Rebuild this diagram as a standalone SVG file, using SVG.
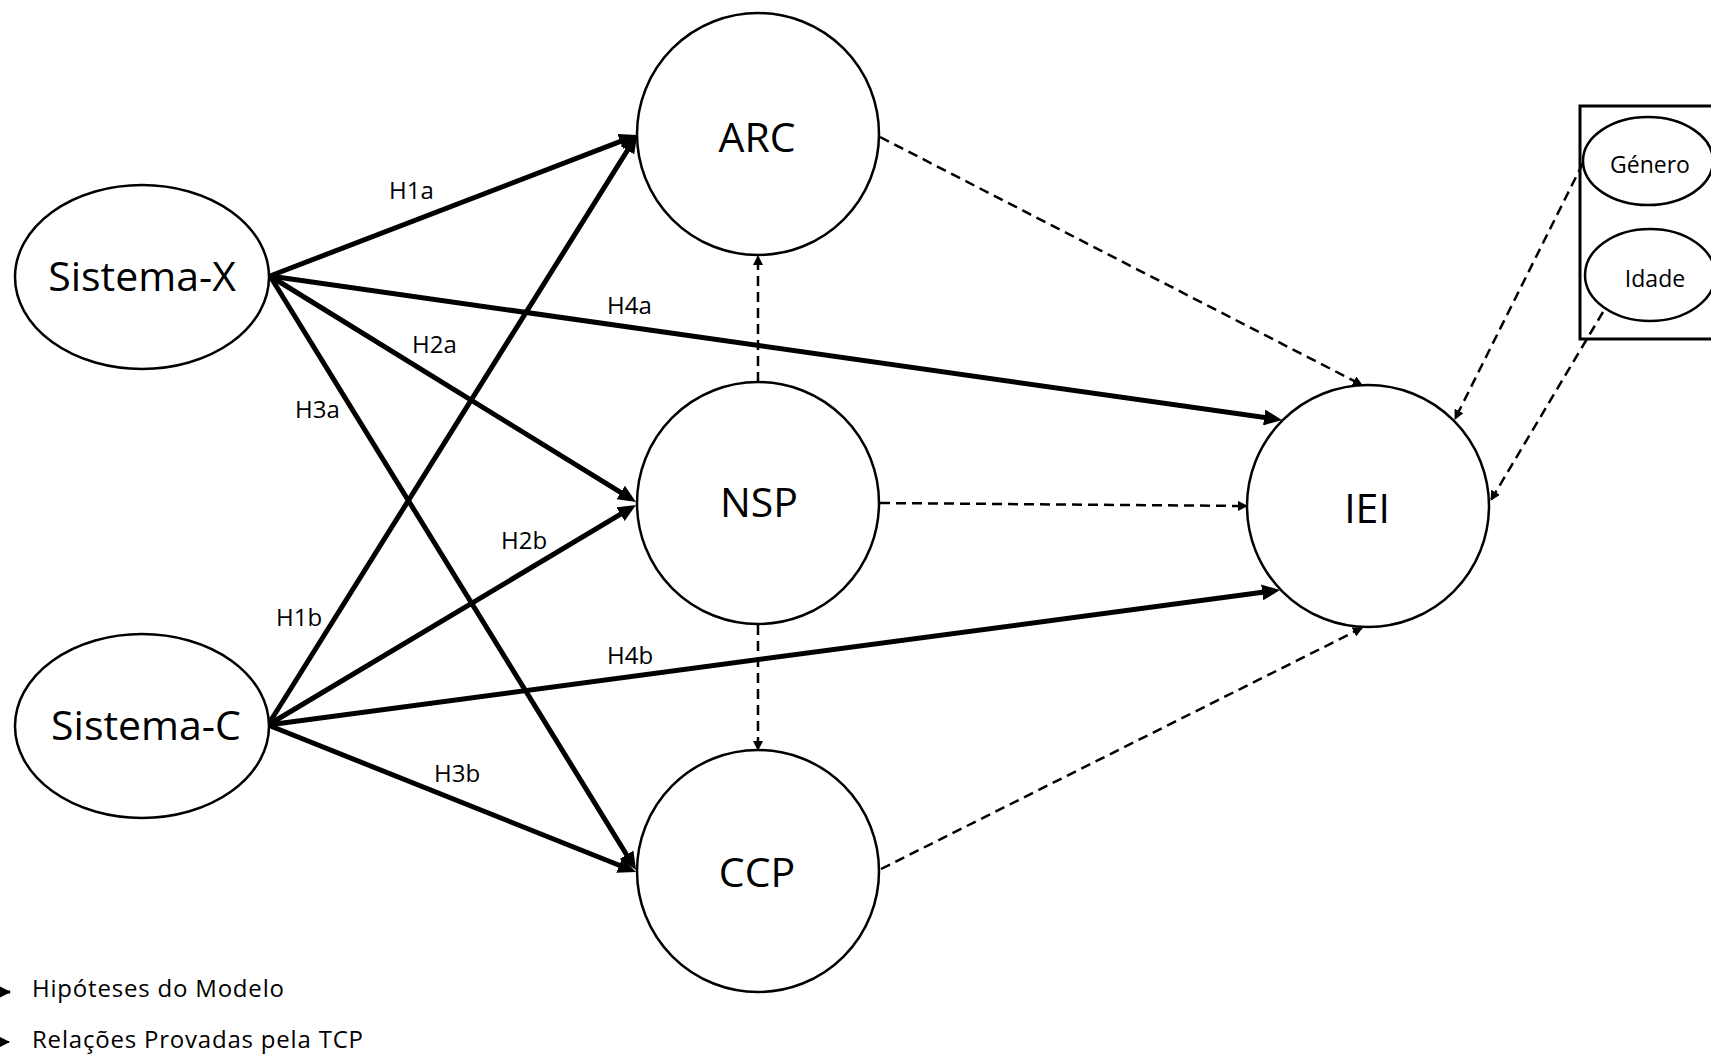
<svg xmlns="http://www.w3.org/2000/svg" width="1711" height="1058" viewBox="0 0 1711 1058">
  <style>
    .node { fill: #ffffff; stroke: #000000; stroke-width: 2.5; }
    .big { font-family: "Open Sans", "Liberation Sans", sans-serif; font-size: 41px; fill: #000; text-anchor: middle; }
    .small { font-family: "Open Sans", "Liberation Sans", sans-serif; font-size: 23px; fill: #000; text-anchor: middle; }
    .lab { font-family: "Open Sans", "Liberation Sans", sans-serif; font-size: 24px; fill: #000; }
    .leg { font-family: "Open Sans", "Liberation Sans", sans-serif; font-size: 24px; letter-spacing: 0.8px; fill: #000; }
    .hyp { stroke: #000; stroke-width: 5; fill: none; marker-end: url(#big); }
    .rel { stroke: #000; stroke-width: 2.5; fill: none; stroke-dasharray: 10 6; marker-end: url(#sm); }
  </style>
  <defs>
    <marker id="big" viewBox="0 0 18 16" refX="8" refY="8" markerWidth="18" markerHeight="16" markerUnits="userSpaceOnUse" orient="auto">
      <path d="M0,0 L18,8 L0,16 z" fill="#000"/>
    </marker>
    <marker id="sm" viewBox="0 0 10 10" refX="9" refY="5" markerWidth="10" markerHeight="10" markerUnits="userSpaceOnUse" orient="auto">
      <path d="M0,0 L10,5 L0,10 z" fill="#000"/>
    </marker>
    <marker id="leg" viewBox="0 0 12 12" refX="11" refY="6" markerWidth="12" markerHeight="12" markerUnits="userSpaceOnUse" orient="auto">
      <path d="M0,0 L12,6 L0,12 z" fill="#000"/>
    </marker>
  </defs>
  <rect width="1711" height="1058" fill="#ffffff"/>

  <g id="connectors">
    <line class="hyp" x1="270" y1="276" x2="627.7" y2="138.6"/>
    <line class="hyp" x1="268" y1="725" x2="631.7" y2="143.5"/>
    <line class="hyp" x1="270" y1="276" x2="627.5" y2="496.7"/>
    <line class="hyp" x1="268" y1="725" x2="627.4" y2="510.1"/>
    <line class="hyp" x1="270" y1="276" x2="630.8" y2="861.5"/>
    <line class="hyp" x1="268" y1="725" x2="626.7" y2="868.3"/>
    <line class="hyp" x1="270" y1="276" x2="1272.1" y2="418.6"/>
    <line class="hyp" x1="268" y1="725" x2="1270.1" y2="591.3"/>

    <line class="rel" x1="758" y1="382" x2="758" y2="256"/>
    <line class="rel" x1="758" y1="625" x2="758" y2="750"/>
    <line class="rel" x1="880" y1="503" x2="1247" y2="506"/>
    <line class="rel" x1="880" y1="137" x2="1362" y2="385"/>
    <line class="rel" x1="881" y1="869" x2="1362" y2="628"/>
    <line class="rel" x1="1583" y1="163" x2="1455" y2="419"/>
    <line class="rel" x1="1603" y1="312" x2="1491" y2="500"/>

    <text class="lab" x="389" y="199">H1a</text>
    <text class="lab" x="607" y="314">H4a</text>
    <text class="lab" x="412" y="353">H2a</text>
    <text class="lab" x="295" y="418">H3a</text>
    <text class="lab" x="501" y="549">H2b</text>
    <text class="lab" x="276" y="626">H1b</text>
    <text class="lab" x="607" y="664">H4b</text>
    <text class="lab" x="434" y="782">H3b</text>
  </g>

  <g id="sistema-x">
    <ellipse class="node" cx="142" cy="277" rx="127" ry="92"/>
    <text class="big" x="142" y="291">Sistema-X</text>
  </g>
  <g id="sistema-c">
    <ellipse class="node" cx="142" cy="726" rx="127" ry="92"/>
    <text class="big" x="146" y="740">Sistema-C</text>
  </g>
  <g id="arc">
    <circle class="node" cx="758" cy="134" r="121"/>
    <text class="big" x="757" y="152">ARC</text>
  </g>
  <g id="nsp">
    <circle class="node" cx="758" cy="503" r="121"/>
    <text class="big" x="759" y="517">NSP</text>
  </g>
  <g id="ccp">
    <circle class="node" cx="758" cy="871" r="121"/>
    <text class="big" x="757" y="887">CCP</text>
  </g>
  <g id="iei">
    <circle class="node" cx="1368" cy="506" r="121"/>
    <text class="big" x="1367" y="523">IEI</text>
  </g>
  <g id="controlos">
    <rect x="1580" y="106" width="150" height="233" fill="none" stroke="#000" stroke-width="3"/>
  </g>
  <g id="genero">
    <ellipse class="node" cx="1648" cy="161" rx="65" ry="44"/>
    <text class="small" x="1650" y="173">Género</text>
  </g>
  <g id="idade">
    <ellipse class="node" cx="1650" cy="275" rx="65" ry="46"/>
    <text class="small" x="1655" y="287">Idade</text>
  </g>

  <g id="legend">
    <line x1="-40" y1="992" x2="10" y2="992" stroke="#000" stroke-width="3" marker-end="url(#leg)"/>
    <line x1="-40" y1="1042" x2="9" y2="1042" stroke="#000" stroke-width="2" stroke-dasharray="10 6" marker-end="url(#leg)"/>
    <text class="leg" x="32" y="997">Hipóteses do Modelo</text>
    <text class="leg" x="32" y="1048">Relações Provadas pela TCP</text>
  </g>
</svg>
